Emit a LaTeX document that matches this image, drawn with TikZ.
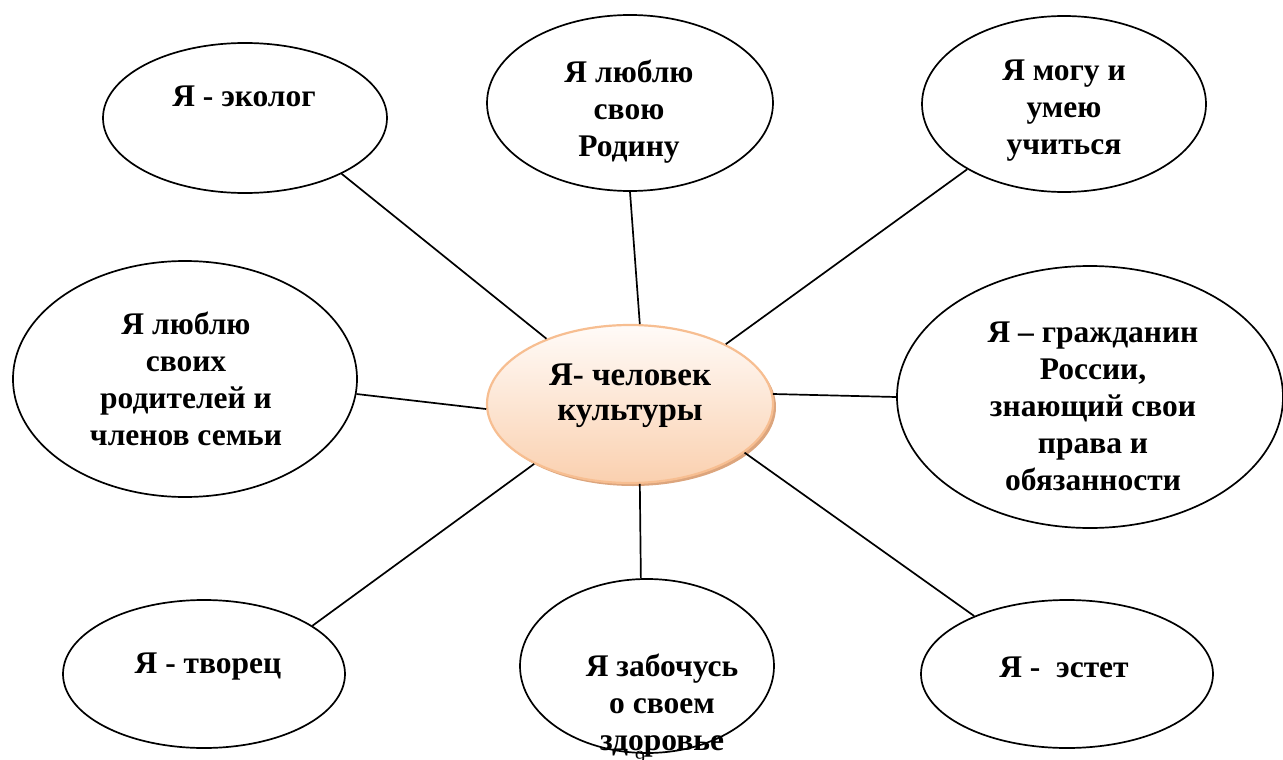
\documentclass[tikz,border=0pt]{standalone}
\usepackage{fontspec}
\setmainfont{Liberation Serif}
\usetikzlibrary{shapes.geometric,shadows}
\definecolor{peachline}{RGB}{247,190,145}
\definecolor{peachlight}{RGB}{255,251,248}
\definecolor{peachdark}{RGB}{250,208,175}
\definecolor{peachshadow}{RGB}{220,165,125}
\begin{document}
\begin{tikzpicture}[x=1pt,y=-1pt,
  ell/.style={draw=black, line width=1.7pt, ellipse, inner sep=0pt},
  txt/.style={font=\fontsize{31.5}{37}\selectfont\bfseries, align=center, inner sep=0pt},
  link/.style={draw=black, line width=1.7pt}]
\useasboundingbox (0,0) rectangle (1283,760);
% outer ellipses
\node[ell, minimum width=284pt, minimum height=150pt] (tl) at (245,118) {};
\node[ell, minimum width=286pt, minimum height=176pt] (tc) at (630,103) {};
\node[ell, minimum width=284pt, minimum height=176pt] (tr) at (1064,104) {};
\node[ell, minimum width=344pt, minimum height=236pt] (lf) at (185,379) {};
\node[ell, minimum width=386pt, minimum height=262pt] (rt) at (1090,397) {};
\node[ell, minimum width=282pt, minimum height=148pt] (bl) at (204,674) {};
\node[ell, minimum width=254pt, minimum height=174pt] (bc) at (647,666) {};
\node[ell, minimum width=292pt, minimum height=148pt] (br) at (1067,674) {};
% centre
\node[ellipse, draw=peachline, line width=2.2pt, top color=peachlight, bottom color=peachdark,
  drop shadow={shadow xshift=3pt, shadow yshift=-3pt, fill=peachshadow, opacity=1},
  minimum width=286pt, minimum height=158pt, inner sep=0pt] (c) at (630,404) {};
% texts
\node[txt] (tlt) at (244,96) {Я - эколог};
\node[txt] (tct) at (629,112) {Я люблю\\свою\\Родину};
\node[txt] (trt) at (1064,111) {Я могу и\\умею\\учиться};
\node[txt] (lft) at (186,379) {Я люблю\\своих\\родителей и\\членов семьи};
\node[txt] (rtt) at (1093,406) {Я – гражданин\\России,\\знающий свои\\права и\\обязанности};
\node[txt, font=\fontsize{33}{35}\selectfont\bfseries] (ct) at (630,396) {Я- человек\\культуры};
\node[txt] (blt) at (208,667) {Я - творец};
\node[txt] (bct) at (662,706) {Я забочусь\\о своем\\здоровье};
\node[txt] (brt) at (1064,667) {Я -\ \ эстет};
\node[font=\fontsize{20}{20}\selectfont, inner sep=0pt, anchor=base] (pg) at (640,764) {9};
% connectors
\draw[link] (tl.-30.6) -- (c.142.4);
\draw[link] (tc.-90) -- (c.83);
\draw[link] (tr.214.6) -- (c.32.6);
\draw[link] (lf.-5.3) -- (c.182);
\draw[link] (c.4) -- (rt.180);
\draw[link] (c.212.8) -- (bl.24.7);
\draw[link] (c.-83) -- (bc.94);
\draw[link] (c.-23) -- (br.148.8);
\end{tikzpicture}
\end{document}
